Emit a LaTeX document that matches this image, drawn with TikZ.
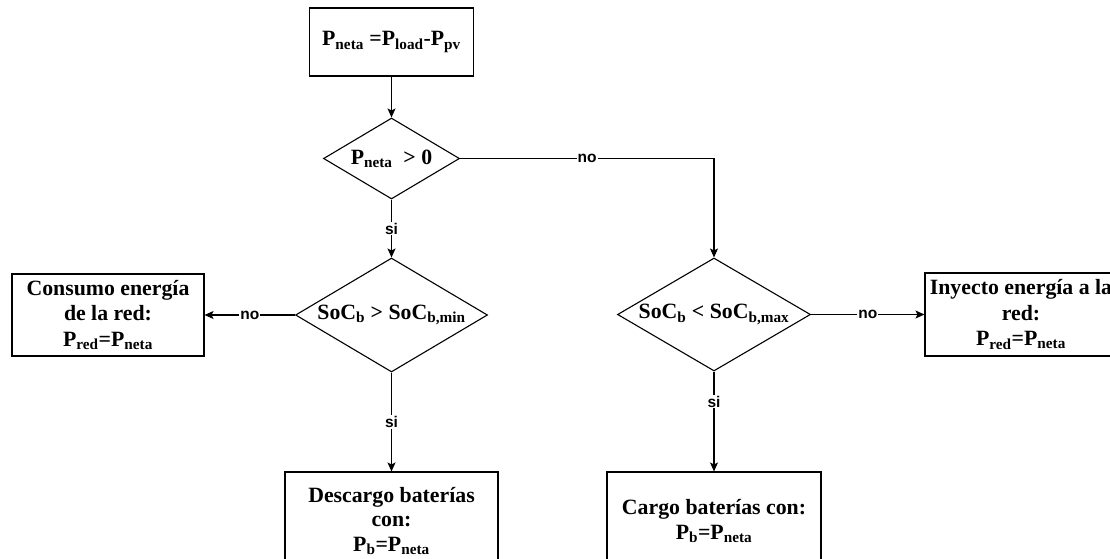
\documentclass[tikz,border=0pt]{standalone}
\usepackage{fontspec}
\setmainfont{Liberation Serif}
\setsansfont{Liberation Sans}
\usetikzlibrary{shapes.geometric,arrows.meta}
\newcommand\sbs[1]{\textsubscript{#1}}
\tikzset{
  procbox/.style={draw, line width=1.1pt, align=center, inner sep=0pt,
    font=\fontsize{21.8}{25.5}\selectfont\bfseries},
  decide/.style={draw, diamond, line width=1.1pt, inner sep=0pt, aspect=1.7,
    font=\fontsize{21.8}{25.5}\selectfont\bfseries},
  conn/.style={line width=1.1pt, -{Stealth[length=9pt,width=8pt,inset=2pt]}},
  lbl/.style={fill=white, inner sep=1pt, font=\fontsize{15.5}{17}\selectfont\sffamily\bfseries}
}
\begin{document}
\begin{tikzpicture}[x=1pt,y=-1pt]
\useasboundingbox (0,0) rectangle (1110,559);
\node[procbox, minimum width=164pt, minimum height=68pt] (top) at (391.5,42) {P\sbs{neta} =P\sbs{load}-P\sbs{pv}};
\node[decide, minimum width=136pt, minimum height=81pt] (d1) at (391.5,158.5) {\makebox[0pt]{P\sbs{neta}\ \ > 0}};
\node[decide, minimum width=192pt, minimum height=114pt] (d2) at (391.5,315) {\makebox[0pt]{SoC\sbs{b} > SoC\sbs{b,min}}};
\node[decide, minimum width=193pt, minimum height=113pt] (d3) at (714,314.5) {\makebox[0pt]{SoC\sbs{b} < SoC\sbs{b,max}}};
\node[procbox, minimum width=192pt, minimum height=82pt] (left) at (108,315) {Consumo energía\\de la red:\\P\sbs{red}=P\sbs{neta}};
\node[procbox, minimum width=192pt, minimum height=83pt] (right) at (1021,314.5) {Inyecto energía a la\\red:\\P\sbs{red}=P\sbs{neta}};
\node[procbox, minimum width=213pt, minimum height=98pt, font=\fontsize{21.8}{24.5}\selectfont\bfseries] (bl) at (391.5,521) {Descargo baterías\\con:\\P\sbs{b}=P\sbs{neta}};
\node[procbox, minimum width=214pt, minimum height=98pt] (br) at (714,521) {Cargo baterías con:\\P\sbs{b}=P\sbs{neta}};
\coordinate (corner) at (714,158.5);
\draw[conn] (top) -- (d1);
\draw[conn] (d1.east) -- node[lbl, pos=0.5] {no} (corner) -- (d3.north);
\draw[conn] (d1.south) -- node[lbl, pos=0.5] {si} (d2.north);
\draw[conn] (d2.west) -- node[lbl, pos=0.5] {no} (left.east);
\draw[conn] (d2.south) -- node[lbl, pos=0.5] {si} (bl.north);
\draw[conn] (d3.east) -- node[lbl, pos=0.5] {no} (right.west);
\draw[conn] (d3.south) -- node[lbl, pos=0.3] {si} (br.north);
\end{tikzpicture}
\end{document}
